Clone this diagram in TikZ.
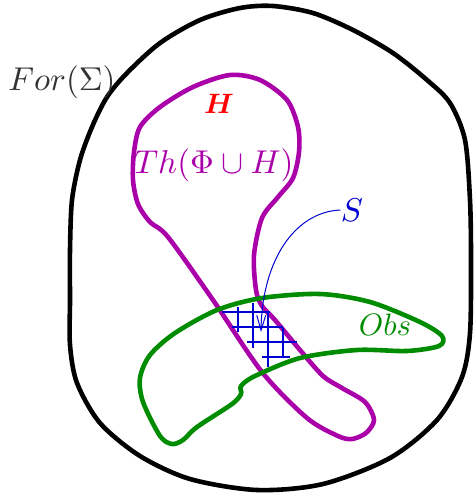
\documentclass[tikz,border=0pt]{standalone}
\usepackage{amsmath,bm}
\usetikzlibrary{arrows.meta}
\definecolor{purp}{RGB}{170,0,170}
\definecolor{grn}{RGB}{0,140,0}
\definecolor{blu}{RGB}{0,0,210}
\definecolor{gry}{RGB}{51,51,51}
\tikzset{
  outline/.style={line width=4.6pt, line join=round},
  gridline/.style={blu, line width=2.6pt},
  lbl/.style={inner sep=0pt},
}
\begin{document}
\begin{tikzpicture}[x=1pt,y=-1pt]
\useasboundingbox (0,0) rectangle (475,496);
% universe
\draw[outline, black] plot[smooth cycle, tension=0.5] coordinates {
 (107,97) (127,73) (160,43) (200,20) (240,8) (273,6) (313,13) (353,30)
 (393,53) (427,80) (450,103) (465,140) (470,200) (471,260) (470,333)
 (462,377) (437,420) (390,458) (323,484) (257,490) (190,479) (140,456)
 (100,423) (77,383) (70,345) (70,300) (70,250) (72,200) (80,160) (92,127)};
% purple theory
\draw[outline, purp] plot[smooth cycle, tension=0.5] coordinates {
 (160,107) (193,87) (230,75) (260,80) (287,100) (298,127) (299,152)
 (293,178) (278,197) (262,218) (254,255) (256,290) (262,306) (275,320)
 (300,350) (323,376) (342,388) (365,402) (374,420) (366,433) (352,439)
 (338,436) (307,418) (262,372) (213,300) (168,237) (150,222) (138,204)
 (133,180) (134,152) (140,127)};
% green obs
\draw[outline, grn] plot[smooth cycle, tension=0.5] coordinates {
 (217,310) (262,298) (320,294) (370,302) (420,322) (442,336) (439,346)
 (407,351) (357,350) (300,358) (255,376) (241,386) (241,394) (232,404)
 (197,427) (183,440) (172,444) (160,436) (143,402) (140,378) (150,355)
 (175,333)};
% grid
\draw[gridline] (222,312) -- (270,312);
\draw[gridline] (232,327) -- (283,327);
\draw[gridline] (247,342) -- (297,342);
\draw[gridline] (262,357) -- (290,357);
\draw[gridline] (238,307) -- (238,332);
\draw[gridline] (253,303) -- (253,348);
\draw[gridline] (268,312) -- (268,367);
\draw[gridline] (283,328) -- (283,357);
% labels
\node[lbl, gry, scale=3.3] (for) at (62,82) {$For(\Sigma)$};
\node[lbl, red, scale=2.8] (H) at (219,104) {$\bm{H}$};
\node[lbl, purp, scale=3.3] (th) at (214,165) {$Th(\Phi\cup H)$};
\node[lbl, blu, scale=3.3] (S) at (352,210) {$S$};
\node[lbl, grn, scale=3.1] (obs) at (385,325) {$Obs$};
\coordinate (tip) at (261,332);
\draw[blu, line width=1pt, -{Straight Barb[length=15pt,width=9pt]}] (S.west) .. controls (295,212) and (262,260) .. (tip);
\end{tikzpicture}
\end{document}
